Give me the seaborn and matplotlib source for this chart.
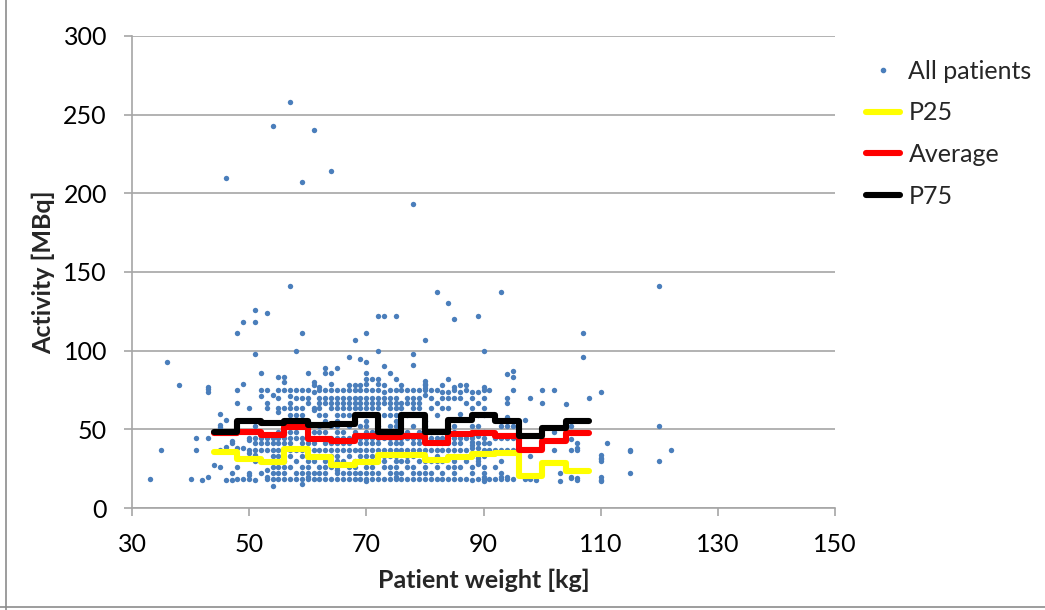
import matplotlib
matplotlib.use("Agg")
import matplotlib.pyplot as plt
import seaborn as sns
import pandas as pd
from matplotlib.lines import Line2D

# ---------------- data ----------------
# scatter: patient weight columns and the activities recorded at each weight
col_weight = [33, 35, 36, 38, 40, 41, 42, 43, 44, 45, 46, 47, 48, 49, 50, 51, 52, 53, 54,
              55, 56, 57, 58, 59, 60, 61, 62, 63, 64, 65, 66, 67, 68, 69, 70, 71, 72, 73,
              74, 75, 76, 77, 78, 79, 80, 81, 82, 83, 84, 85, 86, 87, 88, 89, 90, 91, 92,
              93, 94, 95, 97, 98, 99, 100, 102, 103, 104, 105, 106, 107, 108, 110, 111,
              115, 120, 122]
col_activity = [
    [18.5], [37], [93], [78], [18.5], [44.5, 37], [17.5], [19.5, 44.5, 74, 75.5, 77],
    [27.5], [59.5, 52.5, 51.5, 37, 26], [210, 56, 39, 17.5], [41.5, 42.5, 22.5, 17.5],
    [111, 75, 67, 38, 26, 18.5], [118.5, 79, 38, 18.5],
    [63.5, 44.5, 43.5, 37, 35, 22.5, 21, 18.5],
    [126, 118.5, 98, 52, 44.5, 41, 37, 34, 30, 17.5],
    [86, 75, 71, 44.5, 41, 37, 22],
    [124, 75, 67, 63.5, 44.5, 41, 37, 24, 20, 18.5],
    [243, 72, 44.5, 41, 37, 33, 30, 26, 22, 18.5, 14],
    [83, 75, 70, 63.5, 61, 48, 44.5, 41, 37, 33, 30, 26, 22, 18.5],
    [83, 80, 75, 63.5, 52, 48, 44.5, 41, 37, 30, 26, 22, 18.5],
    [258, 141, 75, 71, 67, 63.5, 59, 48, 44.5, 41, 37, 33, 26, 18.5],
    [100, 75, 70, 63.5, 59, 55.5, 52, 48, 44.5, 37, 30, 22, 18.5],
    [207, 111, 75, 70, 63.5, 59, 52, 44.5, 41, 37, 33, 26, 22, 18.5, 15],
    [86, 75, 70, 67, 55.5, 52, 48, 44.5, 41, 37, 33, 30, 26, 22, 20, 18.5],
    [240, 80, 78, 74, 63.5, 62, 48, 44.5, 41, 37, 30, 22, 18.5],
    [77, 75, 70, 67, 63.5, 59, 52, 48, 44.5, 37, 33, 26, 22, 18.5],
    [89, 86, 75, 70, 67, 59, 55.5, 48, 44.5, 41, 37, 30, 26, 22, 18.5],
    [214, 86, 79, 75, 70, 67, 63.5, 52, 44.5, 41, 37, 33, 30, 26, 18.5],
    [89, 75, 70, 67, 63.5, 59, 55.5, 52, 48, 44.5, 41, 37, 33, 30, 26, 24, 22, 18.5],
    [75, 70, 67, 63.5, 59, 48, 44.5, 41, 37, 30, 22, 18.5],
    [96, 78, 75, 70, 67, 63.5, 59, 52, 44.5, 41, 37, 33, 26, 22, 18.5],
    [107, 78, 75, 70, 67, 63.5, 55.5, 48, 44.5, 37, 30, 26, 22, 18.5],
    [94.5, 78, 75, 70, 67, 63.5, 52, 44.5, 41, 37, 33, 30, 22, 18.5],
    [111, 93, 86, 82, 79, 75, 70, 67, 63.5, 59, 55.5, 52, 48, 44.5, 41, 37, 33, 30, 26, 22, 18.5, 17],
    [82, 75, 70, 67, 63.5, 48, 44.5, 41, 37, 33, 26, 22, 18.5],
    [122, 100, 82, 79, 75, 70, 67, 63.5, 52, 48, 44.5, 41, 37, 30, 22, 18.5],
    [122, 90, 78, 74, 70, 67, 59, 48, 44.5, 37, 33, 30, 26, 18.5],
    [86, 75, 70, 67, 63.5, 59, 52, 44.5, 41, 37, 33, 26, 22, 18.5],
    [122, 82, 75, 70, 67, 63.5, 59, 55.5, 52, 48, 44.5, 41, 37, 33, 30, 26, 22, 20, 18.5],
    [78, 75, 67, 63.5, 48, 44.5, 41, 37, 30, 22, 18.5],
    [75, 70, 67, 59, 48, 44.5, 37, 33, 30, 26, 18.5],
    [193, 98, 91, 75, 70, 67, 63.5, 52, 44.5, 41, 37, 33, 26, 22, 18.5],
    [75, 70, 67, 63.5, 48, 44.5, 41, 37, 30, 22, 18.5],
    [107, 81, 79, 78, 76, 75, 72, 55.5, 52, 48, 44.5, 41, 37, 33, 30, 26, 22, 18.5],
    [75, 70, 63.5, 48, 44.5, 37, 30, 22, 18.5],
    [137, 75, 67, 59, 44.5, 41, 37, 33, 30, 26, 18.5],
    [78, 74, 70, 63.5, 48, 44.5, 41, 37, 30, 22, 18.5],
    [130, 82, 74, 70, 63.5, 44.5, 41, 37, 33, 26, 18.5],
    [120, 77, 75, 70, 52, 48, 44.5, 41, 37, 33, 30, 26, 22, 18.5],
    [78, 74, 70, 60, 44.5, 41, 37, 26, 18.5],
    [78, 75, 67, 44.5, 37, 30, 18.5],
    [74, 70, 63.5, 52, 46, 44.5, 42, 40, 38, 35, 33, 26, 22, 17.5],
    [122, 74, 67, 59, 52, 46, 41, 38, 35, 32, 30, 28, 18.5],
    [100, 77, 75, 70, 63.5, 59, 48, 44.5, 41, 37, 33, 26, 22, 20, 18.5, 17],
    [75, 41, 37, 18.5],
    [44.5, 37, 26, 18.5],
    [137, 52, 44.5, 37, 30, 22, 20, 18.5],
    [85, 70, 67, 58, 52, 44.5, 37, 20, 18.5],
    [87, 83, 75, 52, 44.5, 37, 18.5],
    [56, 18.5], [70, 33, 18.5], [18], [75, 67, 41], [75, 48, 37], [22.5, 17], [66],
    [52, 44, 37, 20, 19], [41, 38, 37, 19, 17.5], [111, 96], [70],
    [74, 34, 32, 31, 30, 20, 18, 17], [41], [37, 36, 22], [141, 52, 30], [37],
]

# step curves per 4-kg weight class (class edges, value per class)
class_edges = [44, 48, 52, 56, 60, 64, 68, 72, 76, 80, 84, 88, 92, 96, 100, 104, 108]
p25 = [35.8, 30.9, 29.4, 37.3, 32.2, 27.3, 29.4, 33.7, 33.7, 30.5, 32.2, 34.3, 35.2, 20.3, 28.8, 23.7]
average = [47.5, 48.5, 46.4, 51.7, 43.7, 42.8, 45.8, 44.9, 45.8, 41.1, 47.0, 47.5, 45.8, 36.9, 42.8, 47.5]
p75 = [48.1, 55.5, 54.2, 55.5, 52.8, 53.4, 59.1, 48.1, 59.1, 48.5, 55.9, 59.1, 55.5, 45.8, 50.6, 55.5]

x_ticks = [30, 50, 70, 90, 110, 130, 150]
y_ticks = [0, 50, 100, 150, 200, 250, 300]

# ---------------- build frames ----------------
sw, sa = [], []
for w, acts in zip(col_weight, col_activity):
    for a in acts:
        sw.append(w)
        sa.append(a)
scatter_df = pd.DataFrame({"weight": sw, "activity": sa})

def step_frame(vals):
    return pd.DataFrame({"weight": class_edges, "value": list(vals) + [vals[-1]]})

# ---------------- style ----------------
sns.set_theme(style="white")
plt.rcParams["font.family"] = ["Lato", "DejaVu Sans"]

fig = plt.figure(figsize=(10.45, 6.1), dpi=100)
ax = fig.add_axes([132 / 1045, 1 - 508 / 610, (835 - 132) / 1045, (508 - 36) / 610])

grid_col = "#A6A6A6"
blue = "#4A7EBB"

sns.scatterplot(data=scatter_df, x="weight", y="activity", ax=ax, color=blue,
                s=15, linewidth=0, zorder=3, legend=False)
for vals, col in [(p25, "#FFFF00"), (average, "#FF0000"), (p75, "#000000")]:
    sns.lineplot(data=step_frame(vals), x="weight", y="value", ax=ax, color=col,
                 linewidth=4.4, drawstyle="steps-post", zorder=4, legend=False,
                 solid_capstyle="round", solid_joinstyle="round")

ax.set_xlim(30, 150)
ax.set_ylim(0, 300)
ax.set_xticks(x_ticks)
ax.set_yticks(y_ticks)
ax.yaxis.grid(True, color=grid_col, linewidth=1.2, zorder=0)
ax.xaxis.grid(False)
ax.set_axisbelow(True)
for side in ["top", "right"]:
    ax.spines[side].set_visible(False)
for side in ["left", "bottom"]:
    ax.spines[side].set_color(grid_col)
    ax.spines[side].set_linewidth(1.2)
ax.tick_params(axis="both", which="major", direction="out", length=6, width=1.2,
               color=grid_col, labelsize=18, labelcolor="black", pad=12,
               bottom=True, left=True)
ax.set_xlabel("Patient weight [kg]", fontsize=18, fontweight="bold", labelpad=9)
ax.set_ylabel("Activity [MBq]", fontsize=18, fontweight="bold", labelpad=6)

handles = [
    Line2D([], [], marker="o", linestyle="none", color=blue, markersize=3),
    Line2D([], [], color="#FFFF00", linewidth=4.4),
    Line2D([], [], color="#FF0000", linewidth=4.4),
    Line2D([], [], color="#000000", linewidth=4.4),
]
labels = ["All patients", "P25", "Average", "P75"]
fig.legend(handles, labels, loc="upper left", bbox_to_anchor=(866 / 1045, 1 - 60 / 610),
           frameon=False, fontsize=18, handlelength=1.35, handletextpad=0.35,
           labelspacing=0.74, borderaxespad=0, borderpad=0)

# chart-area frame (left and bottom edges visible in the reference)
fig.add_artist(Line2D([6 / 1045, 6 / 1045], [0, 1], transform=fig.transFigure,
                      color="#8C8C8C", linewidth=1.2))
fig.add_artist(Line2D([0, 1], [3 / 610, 3 / 610], transform=fig.transFigure,
                      color="#8C8C8C", linewidth=1.2))

fig.savefig("out.png", dpi=100)
